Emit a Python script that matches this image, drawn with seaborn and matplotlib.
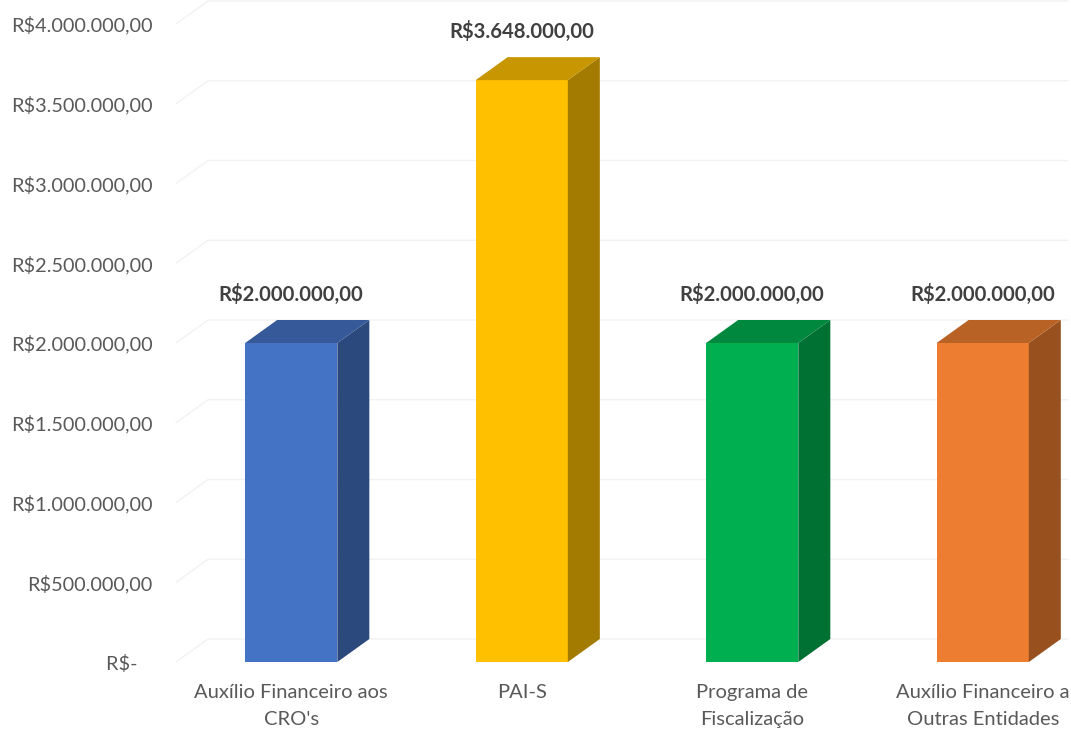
import numpy as np
import pandas as pd
import matplotlib.pyplot as plt
import matplotlib.colors as mcolors
from matplotlib.patches import Polygon
from matplotlib.ticker import FuncFormatter
import seaborn as sns

# chart data
categorias = ["Auxílio Financeiro aos\nCRO's", "PAI-S", "Programa de\nFiscalização",
              "Auxílio Financeiro a\nOutras Entidades"]
valores = [2000000, 3648000, 2000000, 2000000]
cores = ["#4472C4", "#FFC000", "#00B050", "#ED7D31"]
y_ticks = [0, 500000, 1000000, 1500000, 2000000, 2500000, 3000000, 3500000, 4000000]


def brl(v):
    if v == 0:
        return "R$-   "
    s = f"{v:,.2f}".replace(",", "X").replace(".", ",").replace("X", ".")
    return "R$" + s


def shade(c, f):
    r, g, b = mcolors.to_rgb(c)
    return (r * f, g * f, b * f)


sns.set_theme(style="white")
plt.rcParams["font.family"] = ["Lato", "DejaVu Sans"]

df = pd.DataFrame({"categoria": categorias, "valor": valores})

fig = plt.figure(figsize=(10.71, 7.30), dpi=100)
ax = fig.add_axes([176 / 1071, 68 / 730, 892 / 1071, 638 / 730])

sns.barplot(data=df, x="categoria", y="valor", hue="categoria", palette=cores,
            width=0.4, saturation=1, legend=False, ax=ax, zorder=3)

ax.set_xlim(-0.5, 3.37)
ax.set_ylim(0, 4000000)

# depth of the fake 3d effect, in data units
dx = 32 / 230.5
dy = 23 / 159.5 * 1e6

# back wall gridlines with the slanted side-wall bit
for t in y_ticks:
    ax.plot([-0.5, -0.5 + dx, 3.37], [t, t + dy, t + dy], color="#f2f2f2",
            lw=1, zorder=1, clip_on=False)

for p, c, v in zip(ax.patches, cores, valores):
    x0 = p.get_x()
    x1 = x0 + p.get_width()
    h = p.get_height()
    p.set_edgecolor("none")
    side = Polygon([(x1, 0), (x1 + dx, dy), (x1 + dx, h + dy), (x1, h)],
                   closed=True, facecolor=shade(c, 0.64), edgecolor="none", zorder=3)
    top = Polygon([(x0, h), (x0 + dx, h + dy), (x1 + dx, h + dy), (x1, h)],
                  closed=True, facecolor=shade(c, 0.78), edgecolor="none", zorder=3)
    ax.add_patch(side)
    ax.add_patch(top)
    ax.annotate(brl(v), (x0 + p.get_width() / 2, h), xytext=(0, 35),
                textcoords="offset points", ha="center", va="center",
                fontsize=14.6, fontweight="bold", color="#404040")

ax.set_yticks(y_ticks)
ax.yaxis.set_major_formatter(FuncFormatter(lambda v, pos: brl(v)))
ax.tick_params(axis="y", length=0, pad=17, labelsize=14.3, labelcolor="#595959")
ax.tick_params(axis="x", length=0, pad=15.5, labelsize=14.5, labelcolor="#595959")
for lab in ax.get_xticklabels():
    lab.set_linespacing(1.75)
ax.set_xlabel("")
ax.set_ylabel("")
sns.despine(ax=ax, left=True, bottom=True)

fig.savefig("out.png", dpi=100)
